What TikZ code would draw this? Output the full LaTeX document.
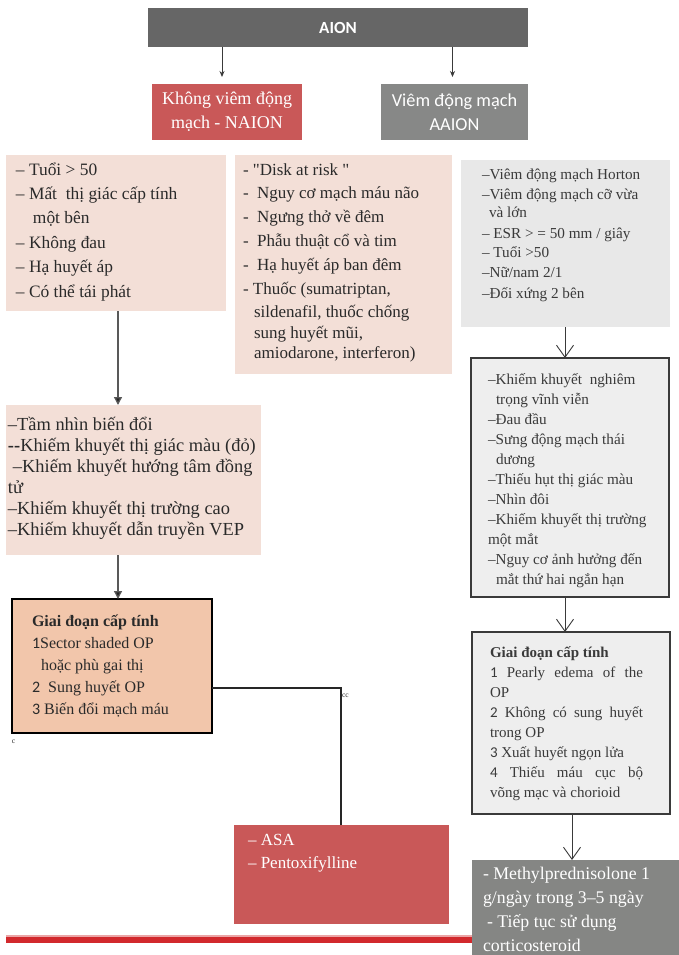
\documentclass[tikz,border=0pt]{standalone}
\usepackage{fontspec}
\setmainfont{Liberation Serif}
% same face without the TeX quote mapping, for straight quotation marks
\newfontfamily\rawserif{Liberation Serif}
\newfontfamily\carlito{Carlito}
\usetikzlibrary{arrows.meta}

\definecolor{aiongray}{HTML}{666666}
\definecolor{naionred}{HTML}{C95858}
\definecolor{aaiongray}{HTML}{878887}
\definecolor{pinkbg}{HTML}{F3DFD7}
\definecolor{peach}{HTML}{F2C6AB}
\definecolor{greyone}{HTML}{E8E8E8}
\definecolor{greytwo}{HTML}{EEEEEE}
\definecolor{darkgrey}{HTML}{858684}
\definecolor{ink}{HTML}{2A2A2A}
\definecolor{softink}{HTML}{3A3A3A}
\definecolor{barred}{HTML}{D2292D}
\definecolor{barpink}{HTML}{EBA5A6}

\begin{document}
\begin{tikzpicture}[x=1pt,y=-1pt,
  box/.style={inner sep=0pt, outer sep=0pt, anchor=north west},
  txt/.style={anchor=base west, inner sep=0pt, outer sep=0pt, text=ink},
  toparrow/.style={draw=softink, line width=0.9pt, -{Stealth[length=6pt,width=5pt]}},
  leftarrow/.style={draw=black!65, line width=1.3pt, -{Triangle[length=8pt,width=8pt,fill=black!85]}},
  rightarrow/.style={draw=softink, line width=0.9pt, -{Straight Barb[length=12pt,width=17pt]}},
  plainline/.style={draw=black!85, line width=1.8pt}]

\useasboundingbox (0,0) rectangle (679,955);
\fill[white] (0,0) rectangle (679,955);

% ---- header and the two branches
\node[box, fill=aiongray, minimum width=380pt, minimum height=39pt] (aion) at (148,8) {};
\node[text=white, font=\carlito\bfseries\fontsize{17}{19}\selectfont] (aiont) at (aion.center) {AION};

\node[box, fill=naionred, minimum width=150pt, minimum height=56pt] (naion) at (152,84) {};
\node[text=white, align=center, font=\fontsize{18}{24}\selectfont] (naiont) at (naion.center) {Không viêm động\\mạch - NAION};

\node[box, fill=aaiongray, minimum width=147pt, minimum height=56pt] (aaion) at (381,84) {};
\node[text=white, align=center, font=\carlito\fontsize{18.3}{24}\selectfont] (aaiont) at (aaion.center) {Viêm động mạch\\AAION};

\draw[toparrow] ([xshift=-5pt]naion.north |- aion.south) -- ([xshift=-5pt,yshift=7pt]naion.north);
\draw[toparrow] ([xshift=-2pt]aaion.north |- aion.south) -- ([xshift=-2pt,yshift=7pt]aaion.north);

% ---- left branch (NAION)
\node[box, fill=pinkbg, minimum width=220pt, minimum height=156pt] (lboxa) at (6,155) {};
\node[txt] (lboxat) at (16,175) {\parbox[t]{210pt}{\fontsize{17.4}{24.4}\selectfont
– Tuổi > 50\\
– Mất\ \ thị giác cấp tính\\
\hspace*{17pt}một bên\\
– Không đau\\
– Hạ huyết áp\\
– Có thể tái phát}};

\node[box, fill=pinkbg, minimum width=217pt, minimum height=219pt] (mbox) at (235,155) {};
\node[txt] (mboxt) at (243,175) {\parbox[t]{210pt}{\fontsize{17}{23.8}\selectfont
- {\rawserif "}Disk at risk {\rawserif "}\\
-\ \ Nguy cơ mạch máu não\\
-\ \ Ngưng thở về đêm\\
-\ \ Phẫu thuật cổ và tim\\
-\ \ Hạ huyết áp ban đêm\\
- Thuốc (sumatriptan,\\
\hspace*{11pt}sildenafil, thuốc chống\\[-3pt]
\hspace*{11pt}sung huyết mũi,\\[-3.5pt]
\hspace*{11pt}amiodarone, interferon)}};

\node[box, fill=pinkbg, minimum width=255pt, minimum height=150pt] (lboxb) at (6,405) {};
\node[txt] (lboxbt) at (8,430) {\parbox[t]{252pt}{\fontsize{18.4}{21}\selectfont
–Tầm nhìn biến đổi\\
\textbf{-{}-}Khiếm khuyết thị giác màu (đỏ)\\
\hspace*{5pt}–Khiếm khuyết hướng tâm đồng\\
tử\\
–Khiếm khuyết thị trường cao\\
–Khiếm khuyết dẫn truyền VEP}};

\node[box, fill=peach, draw=black, line width=2.2pt, minimum width=200pt, minimum height=134pt] (lstage) at (12,599) {};
\node[txt] (lstaget) at (32,626) {\parbox[t]{175pt}{\fontsize{16}{22}\selectfont
\textbf{Giai đoạn cấp tính}\\
{\carlito 1}Sector shaded OP\\
\hspace*{9pt}hoặc phù gai thị\\
{\carlito 2}\ \ Sung huyết OP\\
{\carlito 3} Biến đổi mạch máu}};

\node[box, fill=naionred, minimum width=215pt, minimum height=99pt] (asa) at (234,825) {};
\node[txt, text=white] (asat) at (248,845) {\parbox[t]{195pt}{\fontsize{17}{23}\selectfont
– ASA\\
– Pentoxifylline}};

\node[txt, font=\fontsize{7.5}{8}\selectfont] (cmark) at (12,743) {c};
\node[txt, font=\fontsize{7.5}{8}\selectfont] (ccmark) at (342,697) {cc};

\coordinate (lx) at (118,0);
\coordinate (lturn) at (341,688);
\draw[leftarrow] (lboxa.south -| lx) -- (lboxb.north -| lx);
\draw[leftarrow] (lboxb.south -| lx) -- (lstage.north -| lx);
\draw[plainline] (lstage.east |- lturn) -- (lturn) -- (asa.north -| lturn);

% ---- right branch (AAION)
\node[box, fill=greyone, minimum width=209pt, minimum height=167pt] (rboxa) at (461,160) {};
\node[txt, text=softink] (rboxat) at (482,179) {\parbox[t]{185pt}{\fontsize{15.2}{20}\selectfont
–Viêm động mạch Horton\\
–Viêm động mạch cỡ vừa\\[-2pt]
\hspace*{7pt}và lớn\\[1pt]
– ESR > = 50 mm / giây\\[-1pt]
– Tuổi >50\\
–Nữ/nam 2/1\\[1pt]
–Đối xứng 2 bên}};

\node[box, fill=greytwo, draw=softink, line width=1.5pt, minimum width=198pt, minimum height=239pt] (rboxb) at (471,358) {};
\node[txt, text=softink] (rboxbt) at (488,384) {\parbox[t]{178pt}{\fontsize{15.2}{20}\selectfont
–Khiếm khuyết\ \ nghiêm\\
\hspace*{8pt}trọng vĩnh viễn\\
–Đau đầu\\
–Sưng động mạch thái\\
\hspace*{8pt}dương\\
–Thiếu hụt thị giác màu\\
–Nhìn đôi\\
–Khiếm khuyết thị trường\\
một mắt\\
–Nguy cơ ảnh hưởng đến\\
\hspace*{8pt}mắt thứ hai ngắn hạn}};

\node[box, fill=greytwo, draw=softink, line width=1.5pt, minimum width=198pt, minimum height=182pt] (rstage) at (472,632) {};
\node[txt, text=softink] (rstaget) at (490,657) {\parbox[t]{160pt}{\fontsize{15}{20}\selectfont
\textbf{Giai đoạn cấp tính}\\
\makebox[153pt][s]{{\carlito 1} Pearly edema of the}\\
OP\\
\makebox[153pt][s]{{\carlito 2} Không có sung huyết}\\
trong OP\\
{\carlito 3} Xuất huyết ngọn lửa\\
\makebox[153pt][s]{{\carlito 4} Thiếu máu cục bộ}\\
võng mạc và chorioid}};

\fill[barpink] (6,934.5) rectangle (472,937);
\fill[barred] (6,937) rectangle (472,943);

\node[box, fill=darkgrey, minimum width=207pt, minimum height=95pt] (rtreat) at (472,860) {};
\node[txt, text=white] (rtreatt) at (483,879) {\parbox[t]{195pt}{\fontsize{17.8}{24}\selectfont
- Methylprednisolone 1\\
g/ngày trong 3–5 ngày\\
\hspace*{4pt}- Tiếp tục sử dụng\\
corticosteroid}};

\coordinate (rxa) at (565,0);
\coordinate (rxb) at (572,0);
\draw[rightarrow] (rboxa.south -| rxa) -- (rboxb.north -| rxa);
\draw[rightarrow] (rboxb.south -| rxa) -- (rstage.north -| rxa);
\draw[rightarrow] (rstage.south -| rxb) -- (rtreat.north -| rxb);

\end{tikzpicture}
\end{document}
